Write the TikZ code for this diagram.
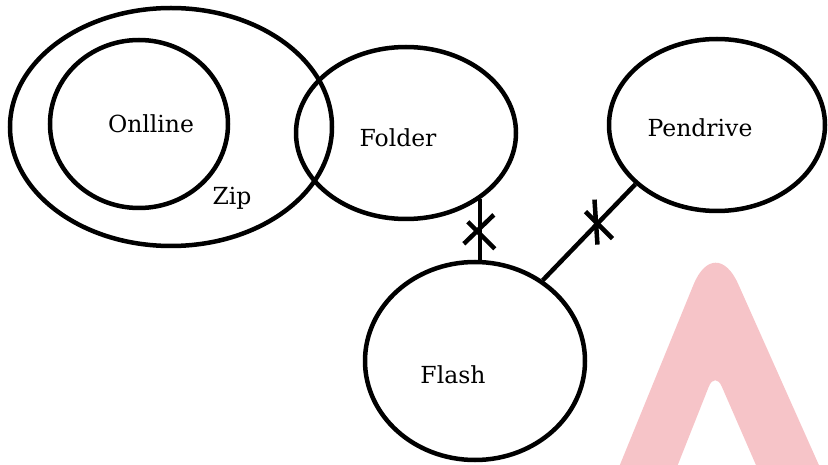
\documentclass[tikz,border=0pt]{standalone}
\usepackage{fontspec}
\setmainfont{DejaVu Serif}
\usetikzlibrary{positioning, calc, shapes}

\definecolor{wmpink}{RGB}{246,196,200}

\begin{document}
\begin{tikzpicture}[x=1pt, y=-1pt, line width=4.5pt, set/.style={draw, ellipse, inner sep=0pt}, lbl/.style={font=\fontsize{23.5}{26}\selectfont, anchor=base, inner sep=0pt} ]
		\useasboundingbox (0,0) rectangle (828,465);

		%Marca d'agua:
		\fill[wmpink] (617,472) [rounded corners=57pt] -- (715,232) [sharp corners] -- (822,472) -- (759,472) [rounded corners=17pt] -- (715,371) [sharp corners] -- (675,472) -- cycle;

		%Conjuntos:
		\node[set, minimum width=322pt, minimum height=238pt]	(zip)      at (171,127) {};
		\node[set, minimum width=178pt, minimum height=168pt]	(online)   at (139,124) {};
		\node[set, minimum width=220pt, minimum height=172pt]	(folder)   at (406,133) {};
		\node[set, minimum width=216pt, minimum height=172pt]	(pendrive) at (717,125) {};
		\node[set, minimum width=220pt, minimum height=198pt]	(flash)    at (475,361) {};

		%Rotulos:
		\node[lbl]	(tonline)   at (151,133) {Onlline};
		\node[lbl]	(tzip)      at (232,205) {Zip};
		\node[lbl]	(tfolder)   at (398,147) {Folder};
		\node[lbl]	(tpendrive) at (700,137) {Pendrive};
		\node[lbl]	(tflash)    at (453,383) {Flash};

		%Ligacoes:
		\draw (folder.-42) -- coordinate[pos=0.52] (xa) (folder.-42 |- flash.north);
		\draw (flash.50) -- coordinate[pos=0.58] (xb) (pendrive.216);
		\draw (xa) +(-16,13) -- +(14,-16) (xa) +(-12,-9) -- +(15,18);
		\draw (xb) +(-2,-25) -- +(1,20) (xb) +(-11,-13) -- +(16,14);
	\end{tikzpicture}
\end{document}
